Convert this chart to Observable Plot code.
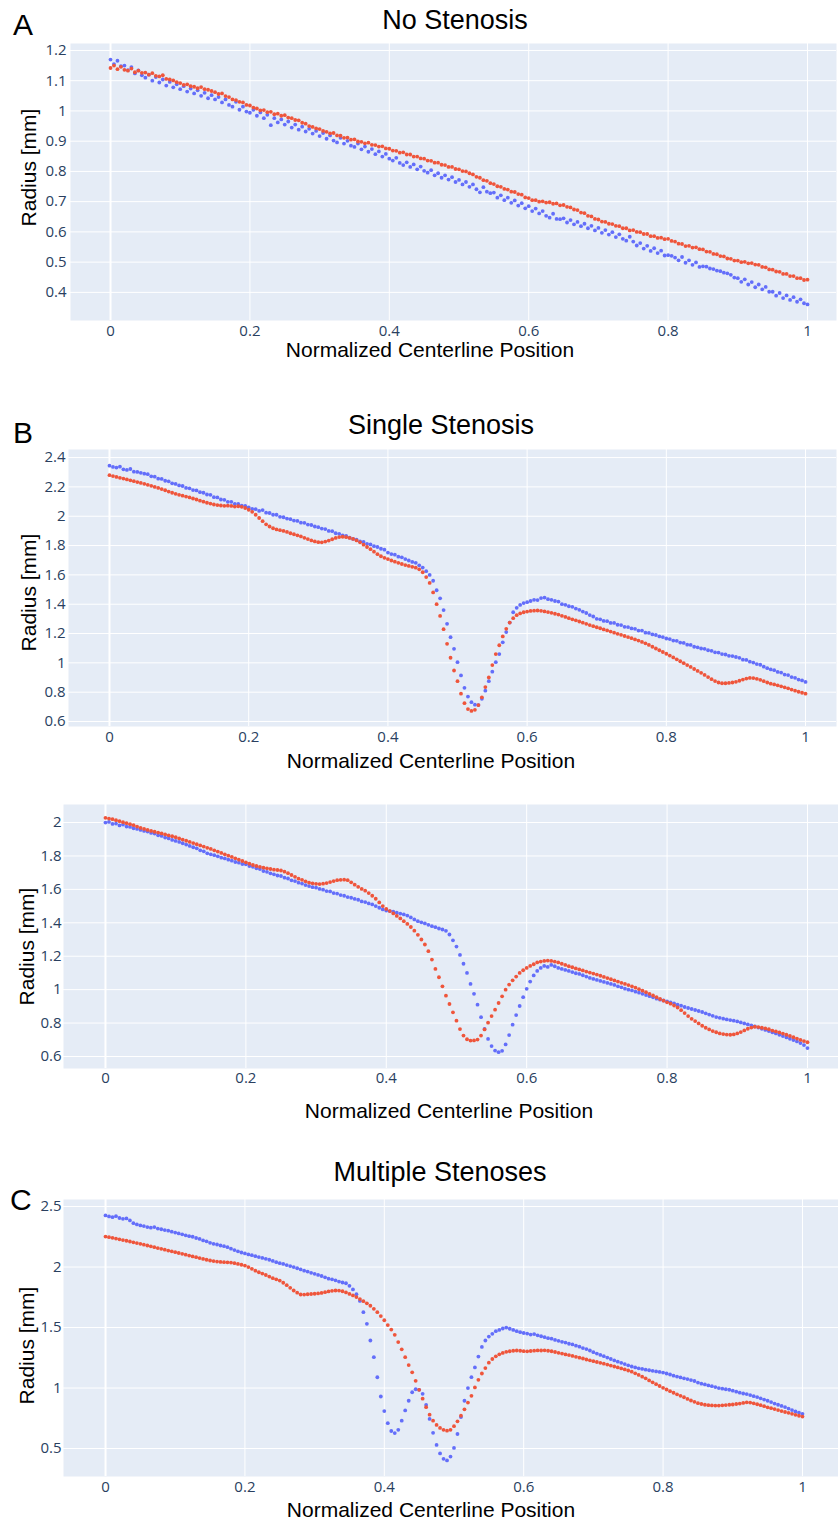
<!DOCTYPE html>
<html>
<head>
<meta charset="utf-8">
<script src="https://cdn.jsdelivr.net/npm/d3@7"></script>
<script src="https://cdn.jsdelivr.net/npm/@observablehq/plot@0.6"></script>
<style>
  html, body { margin: 0; padding: 0; background: #fff; }
  #root { position: relative; width: 838px; height: 1522px; background: #fff; overflow: hidden; }
  .panel { position: absolute; left: 0; }
  .ttl { position: absolute; font-family: "Liberation Sans", Arial, sans-serif; color: #000; white-space: nowrap; text-align: center; }
  .ytl { position: absolute; font-family: "Liberation Sans", Arial, sans-serif; color: #000; white-space: nowrap; text-align: center; transform: rotate(-90deg); transform-origin: center center; }
</style>
</head>
<body>
<div id="root"></div>
<script>
// ---------------- DATA ----------------
// sampled positions along the normalized centerline (step 0.005)
const xPos = Array.from({length: 201}, (_, i) => Math.round(i * 5) / 1000);
const xTicks = [0, 0.2, 0.4, 0.6, 0.8, 1];

// A: No stenosis
const aBlue = [
1.170,1.155,1.166,1.148,1.150,1.135,1.145,1.124,1.134,1.118,
1.110,1.120,1.100,1.112,1.094,1.104,1.084,1.096,1.078,1.088,
1.072,1.082,1.064,1.074,1.058,1.068,1.050,1.060,1.042,1.052,
1.038,1.046,1.028,1.038,1.020,1.014,1.030,1.004,1.014,0.998,
0.994,1.004,0.984,0.995,0.976,0.987,0.953,0.976,0.962,0.972,
0.955,0.965,0.945,0.955,0.938,0.948,0.932,0.941,0.925,0.934,
0.917,0.927,0.908,0.919,0.902,0.896,0.911,0.892,0.901,0.885,
0.881,0.892,0.873,0.882,0.865,0.874,0.857,0.866,0.849,0.858,
0.842,0.836,0.845,0.828,0.821,0.830,0.815,0.823,0.807,0.816,
0.802,0.796,0.804,0.787,0.794,0.779,0.787,0.773,0.781,0.765,
0.772,0.757,0.765,0.749,0.757,0.741,0.731,0.748,0.733,0.728,
0.730,0.713,0.721,0.705,0.713,0.696,0.704,0.687,0.695,0.678,
0.685,0.669,0.677,0.661,0.669,0.653,0.647,0.660,0.643,0.642,
0.645,0.631,0.639,0.625,0.633,0.619,0.627,0.612,0.620,0.605,
0.613,0.597,0.606,0.591,0.599,0.583,0.592,0.577,0.571,0.584,
0.568,0.555,0.563,0.545,0.554,0.537,0.546,0.530,0.538,0.522,
0.523,0.521,0.515,0.506,0.517,0.498,0.506,0.491,0.499,0.484,
0.486,0.485,0.479,0.477,0.472,0.470,0.465,0.463,0.458,0.449,
0.447,0.435,0.443,0.426,0.434,0.417,0.426,0.410,0.418,0.402,
0.402,0.389,0.398,0.381,0.390,0.375,0.384,0.369,0.377,0.364,
0.360];
const aRed = [
1.142,1.150,1.138,1.146,1.136,1.133,1.140,1.128,1.133,1.126,
1.127,1.120,1.125,1.116,1.114,1.118,1.106,1.104,1.101,1.095,
1.092,1.086,1.088,1.082,1.080,1.075,1.079,1.072,1.070,1.066,
1.062,1.056,1.058,1.049,1.046,1.038,1.036,1.030,1.028,1.020,
1.018,1.011,1.008,1.002,1.003,0.996,0.997,0.989,0.991,0.984,
0.986,0.978,0.976,0.970,0.969,0.961,0.958,0.950,0.947,0.942,
0.940,0.934,0.931,0.926,0.927,0.919,0.918,0.911,0.912,0.905,
0.906,0.899,0.898,0.893,0.895,0.888,0.887,0.882,0.883,0.876,
0.875,0.869,0.868,0.862,0.863,0.856,0.856,0.849,0.849,0.843,
0.842,0.836,0.835,0.829,0.829,0.822,0.821,0.815,0.815,0.808,
0.807,0.801,0.800,0.794,0.790,0.782,0.779,0.771,0.769,0.761,
0.758,0.751,0.749,0.742,0.740,0.733,0.732,0.725,0.723,0.714,
0.712,0.705,0.705,0.700,0.701,0.697,0.698,0.693,0.694,0.688,
0.689,0.683,0.681,0.674,0.672,0.664,0.662,0.653,0.651,0.643,
0.641,0.634,0.633,0.627,0.626,0.620,0.619,0.612,0.612,0.605,
0.606,0.600,0.599,0.593,0.593,0.586,0.586,0.580,0.581,0.576,
0.577,0.570,0.568,0.561,0.560,0.553,0.554,0.548,0.549,0.543,
0.542,0.535,0.534,0.527,0.526,0.520,0.519,0.512,0.511,0.505,
0.505,0.500,0.501,0.496,0.497,0.492,0.491,0.484,0.483,0.476,
0.475,0.469,0.468,0.461,0.461,0.454,0.454,0.447,0.447,0.441,
0.442];
const aYTicks = [0.4, 0.5, 0.6, 0.7, 0.8, 0.9, 1, 1.1, 1.2];

// B: Single stenosis (first case)
const bBlue = [
2.345,2.336,2.332,2.338,2.320,2.316,2.322,2.304,2.302,2.296,
2.290,2.287,2.272,2.270,2.256,2.254,2.242,2.238,2.224,2.220,
2.210,2.206,2.193,2.190,2.178,2.176,2.164,2.160,2.148,2.146,
2.130,2.128,2.114,2.112,2.098,2.098,2.084,2.084,2.072,2.070,
2.060,2.050,2.048,2.036,2.042,2.024,2.022,2.010,2.010,1.996,
1.993,1.984,1.980,1.970,1.968,1.956,1.955,1.943,1.940,1.930,
1.925,1.916,1.912,1.900,1.898,1.884,1.880,1.870,1.866,1.854,
1.845,1.840,1.828,1.825,1.812,1.808,1.796,1.790,1.778,1.772,
1.752,1.742,1.738,1.724,1.720,1.708,1.698,1.688,1.682,1.665,
1.650,1.625,1.600,1.560,1.495,1.440,1.360,1.266,1.175,1.096,
1.005,0.914,0.830,0.770,0.732,0.715,0.712,0.755,0.810,0.875,
0.940,1.005,1.060,1.140,1.210,1.275,1.345,1.375,1.395,1.408,
1.414,1.422,1.430,1.428,1.442,1.445,1.434,1.430,1.422,1.418,
1.400,1.396,1.386,1.382,1.370,1.362,1.350,1.340,1.326,1.316,
1.300,1.297,1.286,1.284,1.272,1.272,1.260,1.258,1.246,1.244,
1.235,1.232,1.220,1.220,1.206,1.204,1.194,1.190,1.180,1.176,
1.166,1.162,1.152,1.150,1.138,1.136,1.124,1.122,1.110,1.106,
1.098,1.096,1.086,1.082,1.072,1.070,1.060,1.057,1.048,1.046,
1.040,1.034,1.022,1.020,1.008,1.002,0.992,0.987,0.974,0.964,
0.955,0.950,0.938,0.934,0.920,0.917,0.903,0.898,0.886,0.880,
0.870];
const bRed = [
2.280,2.274,2.268,2.262,2.257,2.251,2.245,2.239,2.233,2.227,
2.221,2.214,2.207,2.200,2.193,2.185,2.177,2.168,2.160,2.153,
2.146,2.140,2.134,2.128,2.121,2.114,2.106,2.099,2.092,2.086,
2.080,2.076,2.073,2.071,2.072,2.070,2.066,2.068,2.064,2.056,
2.044,2.030,2.010,1.988,1.966,1.945,1.930,1.918,1.910,1.905,
1.900,1.893,1.884,1.877,1.870,1.862,1.853,1.844,1.835,1.828,
1.823,1.822,1.827,1.834,1.843,1.852,1.858,1.860,1.857,1.852,
1.845,1.835,1.822,1.806,1.790,1.775,1.758,1.741,1.727,1.716,
1.708,1.698,1.690,1.682,1.674,1.667,1.661,1.655,1.649,1.638,
1.618,1.585,1.545,1.480,1.400,1.320,1.230,1.130,1.035,0.948,
0.875,0.790,0.725,0.685,0.672,0.680,0.712,0.765,0.835,0.900,
0.985,1.060,1.120,1.180,1.232,1.275,1.305,1.325,1.337,1.345,
1.350,1.354,1.356,1.357,1.355,1.351,1.346,1.341,1.335,1.329,
1.321,1.313,1.305,1.297,1.290,1.282,1.274,1.266,1.258,1.250,
1.243,1.236,1.228,1.221,1.213,1.206,1.198,1.191,1.183,1.176,
1.168,1.160,1.152,1.143,1.133,1.122,1.110,1.098,1.086,1.074,
1.062,1.050,1.037,1.024,1.011,0.998,0.985,0.972,0.958,0.945,
0.932,0.918,0.903,0.889,0.876,0.866,0.861,0.861,0.863,0.866,
0.871,0.878,0.886,0.893,0.897,0.896,0.891,0.884,0.875,0.866,
0.858,0.853,0.847,0.840,0.833,0.826,0.818,0.810,0.803,0.796,
0.790];
const bYTicks = [0.6, 0.8, 1, 1.2, 1.4, 1.6, 1.8, 2, 2.2, 2.4];

// B: Single stenosis (second case)
const b2Blue = [
2.000,2.004,1.992,1.994,1.983,1.988,1.976,1.974,1.966,1.962,
1.956,1.950,1.946,1.938,1.934,1.924,1.920,1.910,1.905,1.896,
1.890,1.884,1.876,1.868,1.860,1.852,1.846,1.834,1.828,1.816,
1.810,1.805,1.798,1.790,1.785,1.778,1.772,1.764,1.760,1.752,
1.750,1.740,1.735,1.726,1.722,1.710,1.705,1.696,1.690,1.683,
1.680,1.670,1.665,1.654,1.650,1.640,1.635,1.626,1.620,1.613,
1.610,1.603,1.598,1.590,1.588,1.578,1.575,1.566,1.562,1.554,
1.550,1.543,1.538,1.528,1.524,1.516,1.510,1.500,1.490,1.480,
1.473,1.470,1.466,1.460,1.455,1.450,1.443,1.432,1.420,1.410,
1.403,1.396,1.388,1.380,1.374,1.366,1.360,1.352,1.330,1.295,
1.258,1.208,1.155,1.100,1.034,0.975,0.910,0.835,0.765,0.705,
0.662,0.635,0.626,0.634,0.672,0.728,0.790,0.848,0.902,0.955,
1.005,1.048,1.085,1.112,1.130,1.142,1.136,1.148,1.140,1.130,
1.124,1.118,1.112,1.105,1.098,1.094,1.086,1.078,1.070,1.064,
1.058,1.052,1.046,1.040,1.034,1.028,1.020,1.014,1.006,1.000,
0.995,0.988,0.982,0.975,0.968,0.961,0.954,0.946,0.940,0.935,
0.930,0.924,0.918,0.910,0.904,0.896,0.890,0.884,0.878,0.872,
0.866,0.858,0.851,0.843,0.836,0.831,0.826,0.822,0.818,0.814,
0.810,0.804,0.798,0.792,0.786,0.780,0.773,0.766,0.759,0.752,
0.745,0.738,0.730,0.722,0.714,0.706,0.698,0.690,0.680,0.668,
0.650];
const b2Red = [
2.028,2.024,2.020,2.014,2.008,2.002,1.996,1.990,1.984,1.976,
1.968,1.962,1.956,1.950,1.945,1.940,1.935,1.929,1.923,1.918,
1.912,1.905,1.898,1.891,1.884,1.877,1.870,1.863,1.856,1.849,
1.842,1.834,1.826,1.818,1.810,1.802,1.794,1.786,1.778,1.770,
1.762,1.754,1.746,1.740,1.735,1.730,1.726,1.722,1.718,1.716,
1.713,1.706,1.697,1.686,1.675,1.664,1.657,1.648,1.640,1.636,
1.633,1.632,1.634,1.638,1.644,1.650,1.655,1.657,1.658,1.655,
1.642,1.628,1.615,1.603,1.592,1.578,1.562,1.544,1.522,1.500,
1.483,1.470,1.456,1.441,1.426,1.410,1.393,1.375,1.353,1.328,
1.300,1.270,1.230,1.180,1.124,1.074,1.020,0.964,0.914,0.864,
0.814,0.764,0.725,0.703,0.695,0.696,0.701,0.725,0.762,0.802,
0.842,0.880,0.920,0.960,1.000,1.030,1.056,1.078,1.100,1.116,
1.130,1.142,1.152,1.163,1.168,1.172,1.174,1.172,1.168,1.163,
1.155,1.148,1.140,1.134,1.127,1.121,1.115,1.108,1.102,1.096,
1.090,1.083,1.076,1.069,1.062,1.055,1.048,1.041,1.034,1.027,
1.020,1.012,1.003,0.994,0.985,0.975,0.965,0.955,0.944,0.934,
0.924,0.916,0.905,0.893,0.877,0.860,0.842,0.825,0.812,0.798,
0.784,0.772,0.762,0.752,0.745,0.738,0.734,0.731,0.730,0.732,
0.738,0.746,0.756,0.766,0.773,0.778,0.776,0.772,0.768,0.763,
0.755,0.750,0.744,0.737,0.730,0.723,0.715,0.707,0.699,0.692,
0.685];
const b2YTicks = [0.6, 0.8, 1, 1.2, 1.4, 1.6, 1.8, 2];

// C: Multiple stenoses
const cBlue = [
2.426,2.418,2.412,2.420,2.405,2.398,2.402,2.385,2.362,2.352,
2.344,2.338,2.330,2.325,2.330,2.318,2.312,2.305,2.300,2.292,
2.285,2.278,2.270,2.262,2.255,2.250,2.240,2.232,2.220,2.212,
2.200,2.192,2.186,2.178,2.172,2.164,2.152,2.140,2.130,2.120,
2.112,2.104,2.098,2.090,2.082,2.075,2.068,2.060,2.050,2.040,
2.032,2.026,2.016,2.008,2.000,1.990,1.980,1.970,1.962,1.952,
1.944,1.935,1.926,1.915,1.904,1.898,1.890,1.880,1.872,1.866,
1.845,1.815,1.775,1.720,1.627,1.531,1.393,1.255,1.089,0.930,
0.810,0.710,0.645,0.628,0.655,0.730,0.815,0.895,0.965,0.990,
0.985,0.952,0.860,0.745,0.630,0.530,0.460,0.415,0.402,0.434,
0.505,0.620,0.760,0.895,1.000,1.090,1.170,1.260,1.340,1.393,
1.425,1.448,1.470,1.480,1.492,1.500,1.490,1.480,1.470,1.462,
1.455,1.450,1.442,1.446,1.436,1.428,1.420,1.412,1.408,1.398,
1.390,1.382,1.376,1.366,1.360,1.350,1.342,1.330,1.322,1.310,
1.296,1.285,1.274,1.263,1.252,1.240,1.228,1.218,1.208,1.198,
1.188,1.178,1.170,1.163,1.158,1.152,1.147,1.142,1.137,1.133,
1.128,1.120,1.112,1.102,1.095,1.088,1.080,1.074,1.066,1.058,
1.045,1.036,1.030,1.022,1.015,1.008,1.000,0.995,0.990,0.986,
0.978,0.970,0.962,0.955,0.950,0.942,0.933,0.925,0.915,0.905,
0.895,0.884,0.872,0.862,0.852,0.843,0.830,0.818,0.806,0.796,
0.787];
const cRed = [
2.252,2.247,2.241,2.235,2.229,2.223,2.217,2.211,2.204,2.198,
2.192,2.185,2.178,2.171,2.164,2.157,2.150,2.143,2.136,2.130,
2.123,2.116,2.109,2.102,2.095,2.088,2.081,2.074,2.067,2.060,
2.054,2.049,2.045,2.042,2.040,2.039,2.037,2.032,2.026,2.019,
2.012,2.000,1.985,1.970,1.957,1.946,1.934,1.921,1.908,1.898,
1.888,1.870,1.850,1.828,1.806,1.788,1.773,1.772,1.775,1.777,
1.779,1.782,1.786,1.792,1.798,1.803,1.806,1.805,1.800,1.790,
1.778,1.765,1.752,1.735,1.718,1.700,1.680,1.655,1.627,1.595,
1.560,1.520,1.483,1.440,1.380,1.320,1.255,1.190,1.130,1.060,
0.985,0.912,0.842,0.780,0.730,0.695,0.670,0.655,0.648,0.655,
0.685,0.725,0.772,0.824,0.880,0.936,1.005,1.068,1.120,1.165,
1.210,1.240,1.262,1.279,1.290,1.299,1.304,1.308,1.310,1.308,
1.305,1.303,1.306,1.309,1.311,1.310,1.312,1.308,1.304,1.298,
1.291,1.285,1.278,1.272,1.265,1.258,1.251,1.244,1.236,1.229,
1.222,1.215,1.208,1.201,1.194,1.186,1.178,1.170,1.162,1.154,
1.145,1.135,1.122,1.108,1.094,1.080,1.063,1.047,1.032,1.017,
1.002,0.988,0.974,0.961,0.948,0.936,0.924,0.910,0.897,0.886,
0.875,0.868,0.862,0.858,0.856,0.855,0.855,0.857,0.859,0.862,
0.864,0.868,0.872,0.877,0.882,0.880,0.874,0.866,0.858,0.850,
0.841,0.834,0.826,0.818,0.810,0.802,0.795,0.787,0.779,0.771,
0.764];
const cYTicks = [0.5, 1, 1.5, 2, 2.5];

const titles = ["No Stenosis", "Single Stenosis", "", "Multiple Stenoses"];
const letters = ["A", "B", "", "C"];
const xTitle = "Normalized Centerline Position";
const yTitle = "Radius [mm]";

// ---------------- LAYOUT ----------------
const BLUE = "#636efa", RED = "#ef553b";
const panels = [
  {top: 0,    height: 375, mt: 43, mb: 55, ml: 70, mr: 2, xDom: [-0.0574, 1.0416], yDom: [0.307, 1.223], yTicks: aYTicks, blue: aBlue, red: aRed, tp: 5, yp: 4,
   title: [455, 30], letter: [13, 35], xt: [430, 357], yt: [35, 167]},
  {top: 380,  height: 400, mt: 69, mb: 54, ml: 68, mr: 2, xDom: [-0.0589, 1.0445], yDom: [0.566, 2.455], yTicks: bYTicks, blue: bBlue, red: bRed, tp: 5, yp: 3,
   title: [441, 435], letter: [13, 443], xt: [431, 768], yt: [35, 592]},
  {top: 780,  height: 340, mt: 24, mb: 52, ml: 63, mr: 0, xDom: [-0.0598, 1.0442], yDom: [0.528, 2.108], yTicks: b2YTicks, blue: b2Blue, red: b2Red, tp: 4, yp: 2,
   title: null, letter: null, xt: [449, 1118], yt: [33, 946]},
  {top: 1130, height: 392, mt: 69, mb: 46, ml: 63, mr: 0, xDom: [-0.0603, 1.0517], yDom: [0.269, 2.558], yTicks: cYTicks, blue: cBlue, red: cRed, tp: 5, yp: 2,
   title: [440, 1182], letter: [10, 1210], xt: [431, 1517], yt: [33, 1345]}
];

const root = document.getElementById("root");
const fmt = d => String(d);
const toRows = vals => vals.slice(0, xPos.length).map((y, i) => ({x: xPos[i], y}));

function addText(txt, cls, cx, baseline, size) {
  const d = document.createElement("div");
  d.className = cls;
  d.textContent = txt;
  d.style.fontSize = size + "px";
  d.style.lineHeight = size + "px";
  d.style.height = size + "px";
  d.style.width = "600px";
  d.style.left = (cx - 300) + "px";
  d.style.top = (baseline - 0.8465 * size) + "px";
  root.appendChild(d);
}
function addLeft(txt, left, baseline, size) {
  const d = document.createElement("div");
  d.className = "ttl";
  d.style.textAlign = "left";
  d.textContent = txt;
  d.style.fontSize = size + "px";
  d.style.lineHeight = size + "px";
  d.style.left = left + "px";
  d.style.top = (baseline - 0.8465 * size) + "px";
  root.appendChild(d);
}
function addYTitle(txt, baselineX, cy, size) {
  const d = document.createElement("div");
  d.className = "ytl";
  d.textContent = txt;
  d.style.fontSize = size + "px";
  d.style.lineHeight = size + "px";
  d.style.height = size + "px";
  d.style.width = "240px";
  const cx = baselineX - 0.3465 * size;
  d.style.left = (cx - 120) + "px";
  d.style.top = (cy - size / 2) + "px";
  root.appendChild(d);
}

panels.forEach((p, k) => {
  const chart = Plot.plot({
    width: 838,
    height: p.height,
    marginTop: p.mt, marginBottom: p.mb, marginLeft: p.ml, marginRight: p.mr,
    x: {domain: p.xDom},
    y: {domain: p.yDom},
    style: {background: "transparent", fontFamily: "'Open Sans', 'DejaVu Sans', sans-serif", fontSize: "15px", color: "#2a3f5f", overflow: "visible"},
    marks: [
      Plot.frame({fill: "#e5ecf6", stroke: "none"}),
      Plot.gridX(xTicks, {stroke: "#ffffff", strokeOpacity: 1, strokeWidth: 1}),
      Plot.gridY(p.yTicks, {stroke: "#ffffff", strokeOpacity: 1, strokeWidth: 1}),
      Plot.ruleX([0], {stroke: "#ffffff", strokeWidth: 2}),
      Plot.axisX(xTicks, {tickSize: 0, tickPadding: p.tp, tickFormat: fmt, label: null, fontSize: 15, fill: "#2a3f5f"}),
      Plot.axisY(p.yTicks, {tickSize: 0, tickPadding: p.yp, tickFormat: fmt, label: null, fontSize: 15, fill: "#2a3f5f"}),
      Plot.dot(toRows(p.blue), {x: "x", y: "y", r: 1.9, fill: BLUE, stroke: "none"}),
      Plot.dot(toRows(p.red), {x: "x", y: "y", r: 1.9, fill: RED, stroke: "none"})
    ]
  });
  chart.classList.add("panel");
  chart.style.top = p.top + "px";
  chart.style.position = "absolute";
  root.appendChild(chart);

  if (titles[k]) addText(titles[k], "ttl", p.title[0], p.title[1], 27);
  if (letters[k]) addLeft(letters[k], p.letter[0], p.letter[1], 30);
  addText(xTitle, "ttl", p.xt[0], p.xt[1], 21);
  addYTitle(yTitle, p.yt[0], p.yt[1], 21);
});
</script>
</body>
</html>
